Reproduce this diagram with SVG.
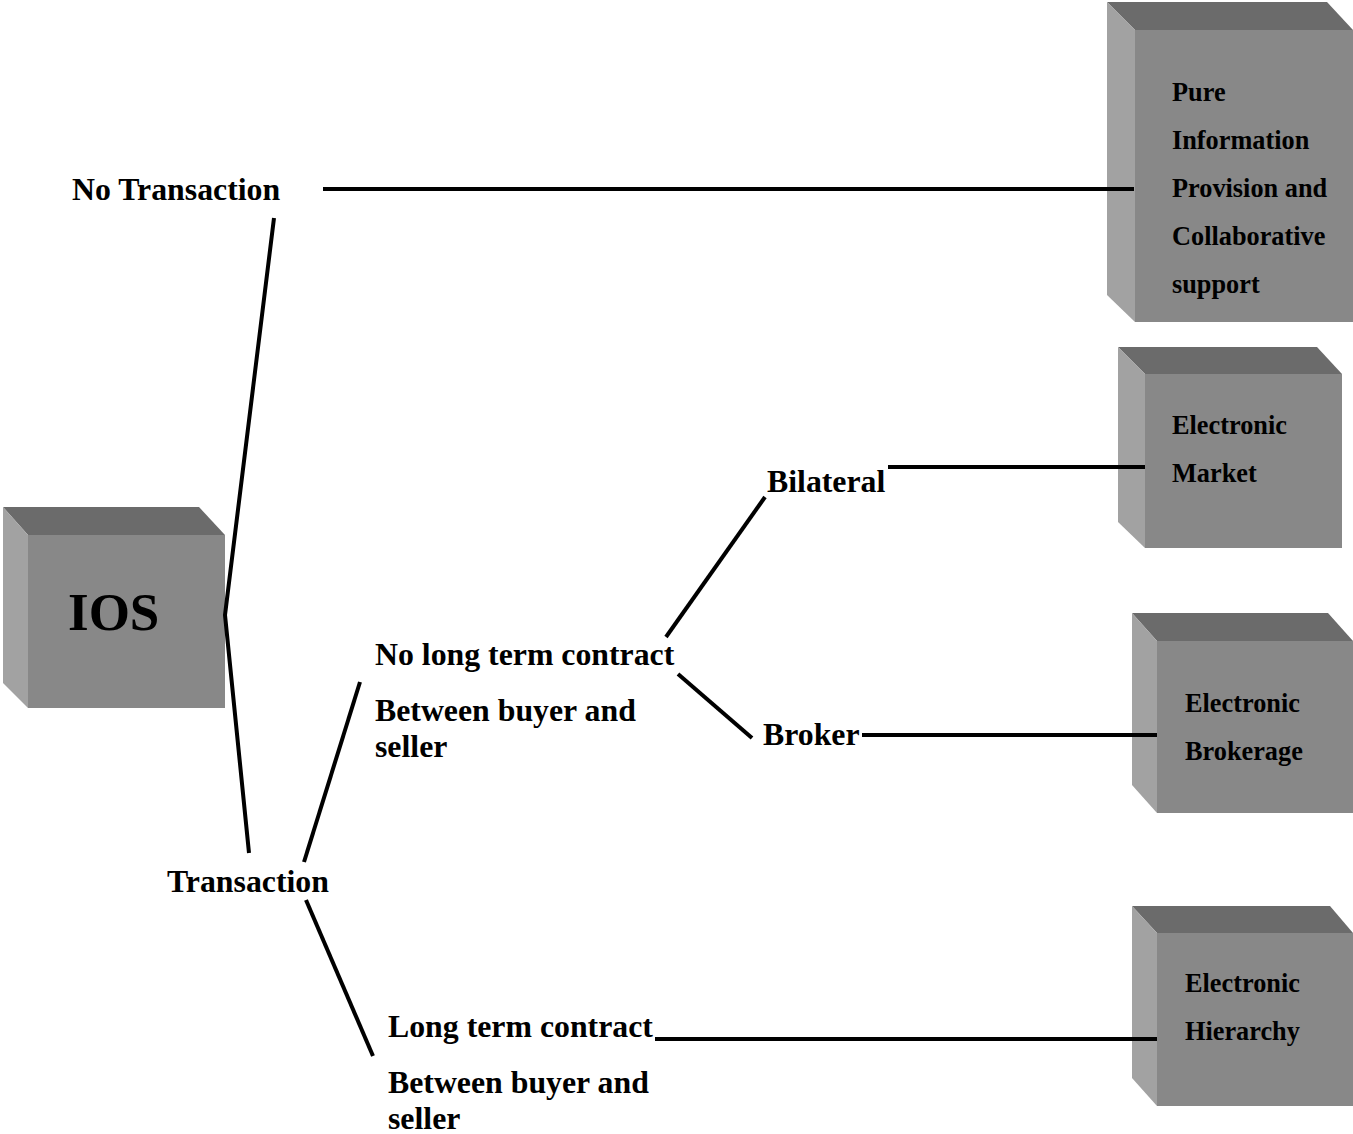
<svg xmlns="http://www.w3.org/2000/svg" width="1353" height="1134" viewBox="0 0 1353 1134">
<style>
.top{fill:#6b6b6b}
.side{fill:#a2a2a2}
.front{fill:#888888}
.lbl{font-family:"Liberation Serif","Times New Roman",serif;font-weight:bold;font-size:31.8px;fill:#000}
.bx{font-family:"Liberation Serif","Times New Roman",serif;font-weight:bold;font-size:26.3px;fill:#000}
.ln{stroke:#000;stroke-width:4;fill:none}
</style>
<rect width="1353" height="1134" fill="#fff"/>
<g id="ios">
<polygon class="top" points="3,507 199,507 225,535 28,535"/>
<polygon class="side" points="3,507 28,535 28,708 3,683"/>
<rect class="front" x="28" y="535" width="197" height="173"/>
<text x="68" y="630" style="font-family:'Liberation Serif','Times New Roman',serif;font-weight:bold;font-size:53px">IOS</text>
</g>
<g id="no-transaction"><text class="lbl" x="72" y="200">No Transaction</text></g>
<g id="transaction"><text class="lbl" x="167" y="892">Transaction</text></g>
<g id="no-long-term">
<text class="lbl" x="375" y="665">No long term contract</text>
<text class="lbl" x="375" y="721">Between buyer and</text>
<text class="lbl" x="375" y="757">seller</text>
</g>
<g id="bilateral"><text class="lbl" x="767" y="492">Bilateral</text></g>
<g id="broker"><text class="lbl" x="763" y="745">Broker</text></g>
<g id="long-term">
<text class="lbl" x="388" y="1037">Long term contract</text>
<text class="lbl" x="388" y="1093">Between buyer and</text>
<text class="lbl" x="388" y="1129">seller</text>
</g>
<g id="pure-info">
<polygon class="top" points="1107,2 1327,2 1353,30 1135,30"/>
<polygon class="side" points="1107,2 1135,30 1135,322 1107,295"/>
<rect class="front" x="1135" y="30" width="218" height="292"/>
<text class="bx" x="1172" y="101">Pure</text>
<text class="bx" x="1172" y="149">Information</text>
<text class="bx" x="1172" y="197">Provision and</text>
<text class="bx" x="1172" y="245">Collaborative</text>
<text class="bx" x="1172" y="293">support</text>
</g>
<g id="e-market">
<polygon class="top" points="1118,347 1317,347 1342,374 1145,374"/>
<polygon class="side" points="1118,347 1145,374 1145,548 1118,522"/>
<rect class="front" x="1145" y="374" width="197" height="174"/>
<text class="bx" x="1172" y="434">Electronic</text>
<text class="bx" x="1172" y="482">Market</text>
</g>
<g id="e-brokerage">
<polygon class="top" points="1132,613 1328,613 1353,641 1157,641"/>
<polygon class="side" points="1132,613 1157,641 1157,813 1132,785"/>
<rect class="front" x="1157" y="641" width="196" height="172"/>
<text class="bx" x="1185" y="712">Electronic</text>
<text class="bx" x="1185" y="760">Brokerage</text>
</g>
<g id="e-hierarchy">
<polygon class="top" points="1132,906 1330,906 1353,933 1157,933"/>
<polygon class="side" points="1132,906 1157,933 1157,1106 1132,1078"/>
<rect class="front" x="1157" y="933" width="196" height="173"/>
<text class="bx" x="1185" y="992">Electronic</text>
<text class="bx" x="1185" y="1040">Hierarchy</text>
</g>
<g id="connectors">
<line class="ln" x1="323" y1="189" x2="1134" y2="189"/>
<polyline class="ln" points="274,218 225,615 249,853"/>
<line class="ln" x1="304" y1="862" x2="360" y2="682"/>
<line class="ln" x1="306" y1="900" x2="373" y2="1056"/>
<line class="ln" x1="666" y1="637" x2="765" y2="497"/>
<line class="ln" x1="678" y1="674" x2="752" y2="738"/>
<line class="ln" x1="888" y1="467" x2="1145" y2="467"/>
<line class="ln" x1="862" y1="735" x2="1157" y2="735"/>
<line class="ln" x1="655" y1="1039" x2="1157" y2="1039"/>
</g>
</svg>
